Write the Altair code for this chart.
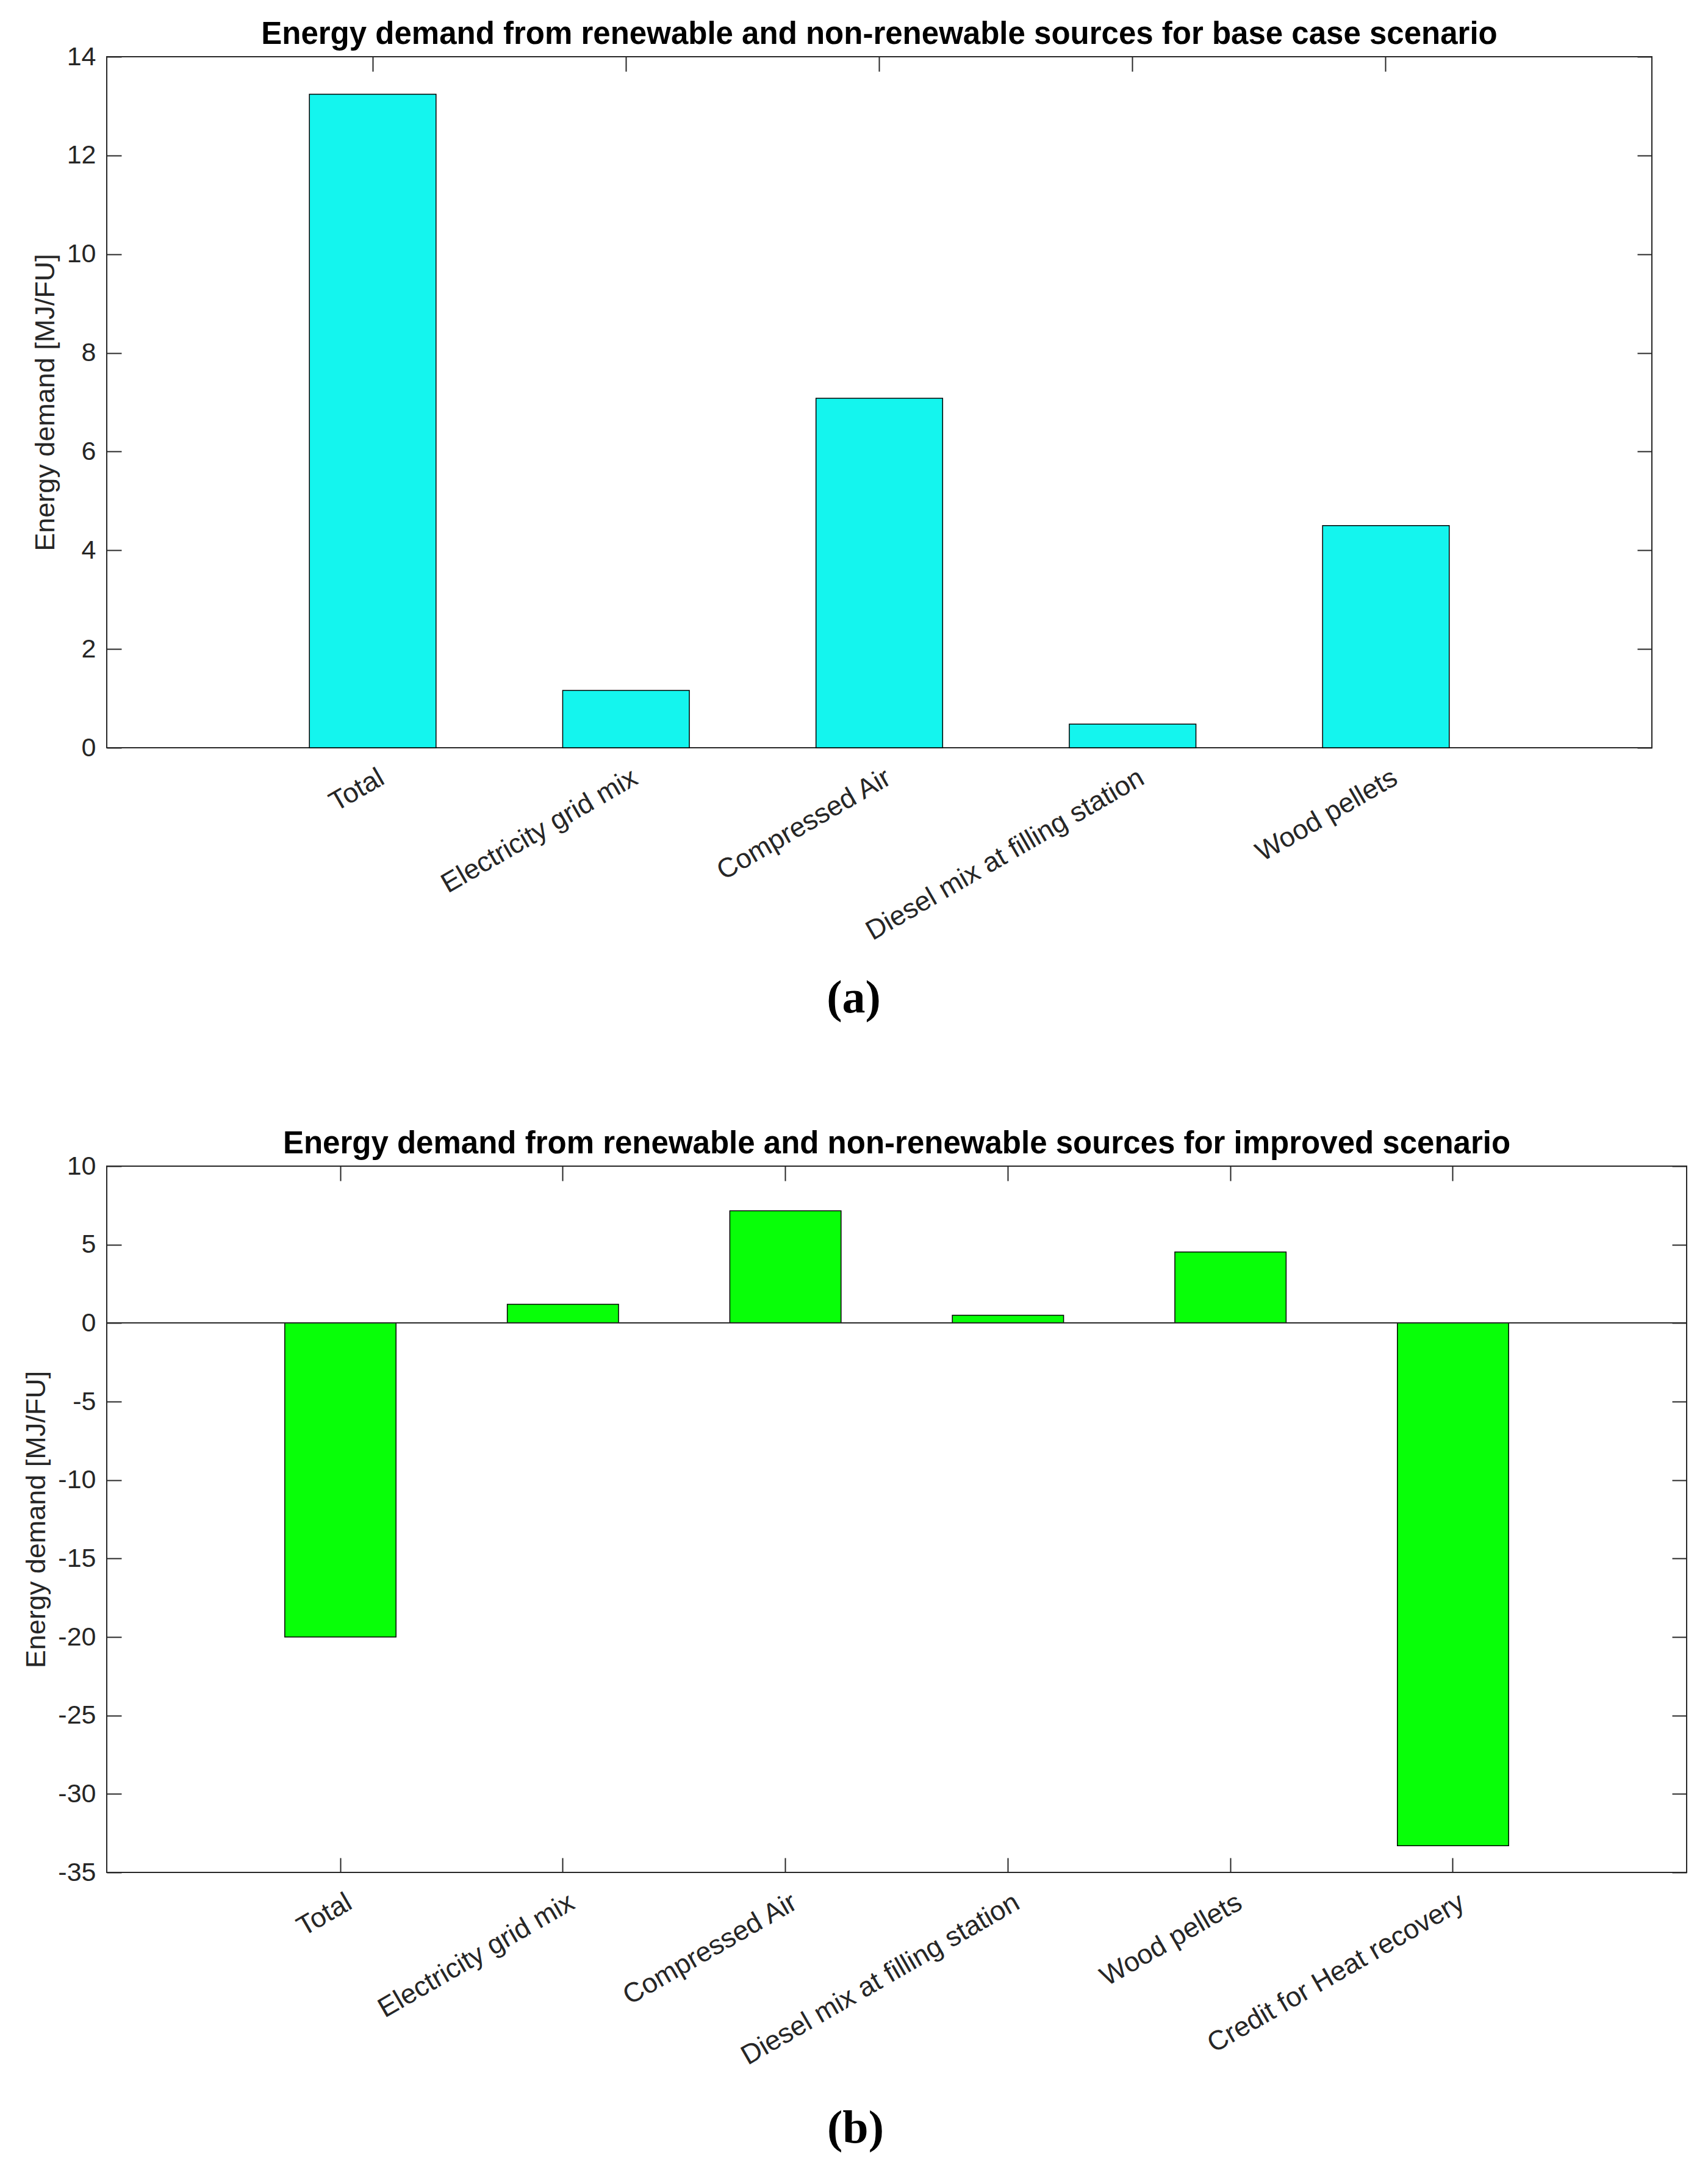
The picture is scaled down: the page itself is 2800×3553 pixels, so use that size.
import altair as alt
import pandas as pd

# ---- data ----
cats_a = ["Total", "Electricity grid mix", "Compressed Air",
          "Diesel mix at filling station", "Wood pellets"]
vals_a = [13.24, 1.16, 7.08, 0.48, 4.50]

cats_b = ["Total", "Electricity grid mix", "Compressed Air",
          "Diesel mix at filling station", "Wood pellets",
          "Credit for Heat recovery"]
vals_b = [-20.0, 1.2, 7.15, 0.5, 4.53, -33.3]

yticks_a = [0, 2, 4, 6, 8, 10, 12, 14]
yticks_b = [-35, -30, -25, -20, -15, -10, -5, 0, 5, 10]

title_a = "Energy demand from renewable and non-renewable sources for base case scenario"
title_b = "Energy demand from renewable and non-renewable sources for improved scenario"
ylabel = "Energy demand [MJ/FU]"

AX = "#262626"
SANS = "Liberation Sans"
TICK = 24


def panel(cats, vals, color, title, caption, ydomain, yticks, width, height,
          cap_x, cap_y, zero_line):
    df = pd.DataFrame({"cat": cats, "val": vals})
    xscale = alt.Scale(paddingInner=0.5, paddingOuter=0.8)
    yscale = alt.Scale(domain=ydomain, nice=False)
    bottom_axis = alt.Axis(
        orient="bottom", title=caption, titleFont="Liberation Serif",
        titleFontSize=76, titleFontWeight="bold", titleColor="black",
        titleX=cap_x, titleY=cap_y, titleBaseline="middle",
        titleAlign="center",
        labelAngle=330, labelAlign="right", labelBaseline="top",
        labelFont=SANS, labelFontSize=45, labelColor=AX, labelPadding=26,
        labelOffset=4, labelLimit=3000,
        tickSize=TICK, offset=-TICK, tickColor=AX, tickWidth=2,
        domain=False, grid=False)
    left_axis = alt.Axis(
        orient="left", title=ylabel, titleFont=SANS, titleFontSize=45,
        titleFontWeight="normal", titleColor=AX, titlePadding=12,
        values=yticks, labelFont=SANS, labelFontSize=43, labelColor=AX,
        labelPadding=18,
        labelExpr="datum.value < 0 ? '-' + abs(datum.value) : '' + datum.value",
        tickSize=TICK, offset=-TICK, tickColor=AX, tickWidth=2,
        domain=False, grid=False)
    top_axis = alt.Axis(orient="top", labels=False, tickSize=TICK,
                        offset=-TICK, tickColor=AX, tickWidth=2,
                        domain=False, grid=False)
    right_axis = alt.Axis(orient="right", labels=False, values=yticks,
                          tickSize=TICK, offset=-TICK, tickColor=AX,
                          tickWidth=2, domain=False, grid=False)

    bars = alt.Chart(df).mark_bar(color=color, stroke="black",
                                  strokeWidth=1.5).encode(
        x=alt.X("cat:N", sort=cats, scale=xscale, axis=bottom_axis),
        y=alt.Y("val:Q", scale=yscale, axis=left_axis),
    )
    main = bars
    if zero_line:
        rule = alt.Chart(df).mark_rule(color=AX, strokeWidth=1.5).encode(
            y=alt.datum(0))
        main = alt.layer(bars, rule)
    ghost = alt.Chart(df).mark_bar(opacity=0).encode(
        x=alt.X("cat:N", sort=cats, title=None, axis=top_axis),
        y=alt.Y("val:Q", title=None, axis=right_axis),
    )
    return alt.layer(main, ghost).resolve_axis(
        x="independent", y="independent"
    ).properties(
        width=width, height=height,
        title=alt.TitleParams(title, font=SANS, fontSize=51,
                              fontWeight="bold", color="black",
                              anchor="middle", frame="group",
                              baseline="bottom", offset=-62),
    )


top = panel(cats_a, vals_a, "#14F5EE", title_a, "(a)", [0, 14], yticks_a,
            2533, 1133, 1224, 434, False)
bot = panel(cats_b, vals_b, "#08FF08", title_b, "(b)", [-35, 10], yticks_b,
            2590, 1158, 1227, 443, True)

chart = alt.vconcat(top, bot, spacing=174).configure_view(
    stroke=AX, strokeWidth=2
).properties(
    padding={"left": 28, "top": 22, "right": 20, "bottom": 20},
    background="white",
)

chart.save("out.html", embed_options={"renderer": "svg", "actions": False})
